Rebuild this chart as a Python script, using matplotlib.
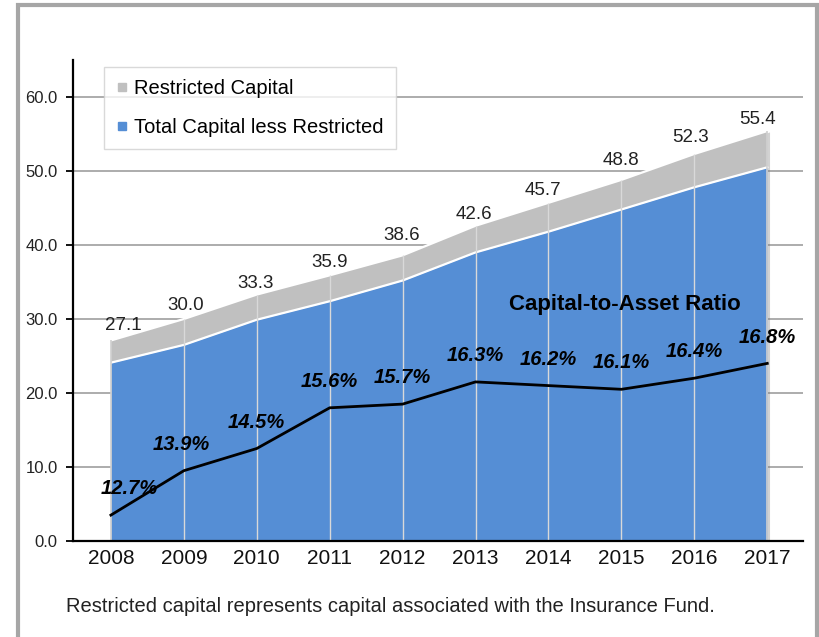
import matplotlib
matplotlib.use("Agg")
import matplotlib.pyplot as plt
import matplotlib.patheffects as pe
from matplotlib.lines import Line2D
from matplotlib.patches import Rectangle
import numpy as np

plt.rcParams['font.family'] = ['Liberation Sans', 'DejaVu Sans']

# data
years = ["2008", "2009", "2010", "2011", "2012", "2013", "2014", "2015", "2016", "2017"]
total_capital = [27.1, 30.0, 33.3, 35.9, 38.6, 42.6, 45.7, 48.8, 52.3, 55.4]
capital_less_restricted = [24.1, 26.5, 29.9, 32.4, 35.2, 39.0, 41.8, 44.8, 47.8, 50.5]
ratio_pct = [12.7, 13.9, 14.5, 15.6, 15.7, 16.3, 16.2, 16.1, 16.4, 16.8]

# label nudges (points), as placed in the original
total_dx = [9, 1, -1, 0, -1, -1, -4, 0, -3, -7]
total_dy = [11, 10, 8, 9.5, 14.5, 8, 9, 14, 12, 8]
ratio_dx = [13, -2, 0, 0, 0, 0, 0, 0, 0, 0]

blue = "#558ED5"
grey = "#C0C0C0"

fig = plt.figure(figsize=(8.19, 6.37), dpi=100)
ax = fig.add_axes([73/819, 1-541/637, 730/819, 481/637])
x = np.arange(len(years))

# grid behind
for v in range(10, 70, 10):
    ax.axhline(v, color="#A6A6A6", lw=1.3, zorder=0)

shadow = [pe.SimplePatchShadow(offset=(2, -1), shadow_rgbFace="#808080", alpha=0.35), pe.Normal()]
ax.fill_between(x, 0, total_capital, color=grey, lw=0, zorder=1, path_effects=shadow)
ax.fill_between(x, 0, capital_less_restricted, color=blue, lw=0, zorder=2)
ax.plot(x, total_capital, color="white", lw=1.6, zorder=3)
ax.plot(x, capital_less_restricted, color="white", lw=1.6, zorder=3)
ax.vlines(x[1:-1], 0, np.array(total_capital[1:-1]), color="#D9D9D9", lw=1, zorder=3)
ax.vlines([x[0], x[-1]], 0, [total_capital[0], total_capital[-1]], color="#D0D0D0", lw=1.2, zorder=3)

for i, v in enumerate(total_capital):
    ax.annotate(f"{v:.1f}", (x[i], v), xytext=(total_dx[i], total_dy[i]), textcoords="offset points",
                ha="center", va="center", fontsize=13.5, color="#222222", zorder=6)

ax.set_xlim(-0.52, 9.49)
ax.set_ylim(0, 65)
ax.set_yticks(range(0, 70, 10))
ax.set_yticklabels([f"{v:.1f}" for v in range(0, 70, 10)], fontsize=12, color="#222222")
ax.set_xticks(x)
ax.set_xticklabels(years, fontsize=15, color="#111111")
ax.tick_params(axis="x", length=0, pad=6)
ax.tick_params(axis="y", length=5, width=1.3, direction="out", pad=6)
for s in ["top", "right"]:
    ax.spines[s].set_visible(False)
ax.spines["left"].set_linewidth(1.6)
ax.spines["bottom"].set_linewidth(1.6)
ax.spines["left"].set_zorder(5)
ax.spines["bottom"].set_zorder(5)

# ratio line on hidden axis
ax2 = ax.twinx()
ax2.set_ylim(12, 25)
ax2.plot(x, ratio_pct, color="black", lw=2, zorder=4)
ax2.axis("off")
for i, p in enumerate(ratio_pct):
    ax2.annotate(f"{p:.1f}%", (x[i], p), xytext=(ratio_dx[i], 19), textcoords="offset points",
                 ha="center", va="center", fontsize=14.5, fontweight="bold", fontstyle="italic")

ax.text(7.05, 32.0, "Capital-to-Asset Ratio", ha="center", va="center",
        fontsize=16, fontweight="bold", zorder=6)

handles = [Line2D([], [], marker="s", ls="none", color=grey, markersize=6),
           Line2D([], [], marker="s", ls="none", color=blue, markersize=6)]
leg = fig.legend(handles, ["Restricted Capital", "Total Capital less Restricted"],
                 loc="upper left", bbox_to_anchor=(104/819, 1-67/637), fontsize=14.5,
                 frameon=True, fancybox=False, handlelength=0.6, handletextpad=0.3,
                 labelspacing=1.0, borderpad=0.6, borderaxespad=0)
leg.get_frame().set_edgecolor("#D0D0D0")
leg.get_frame().set_linewidth(1)

fig.text(66/819, 1-606/637, "Restricted capital represents capital associated with the Insurance Fund.",
         ha="left", va="center", fontsize=14.5, color="#222222")

fig.patches.append(Rectangle((18/819, -0.1), 799/819, 1.1-5/637, transform=fig.transFigure,
                             fill=False, edgecolor="#A6A6A6", lw=3))

fig.savefig("out.png", dpi=100)
